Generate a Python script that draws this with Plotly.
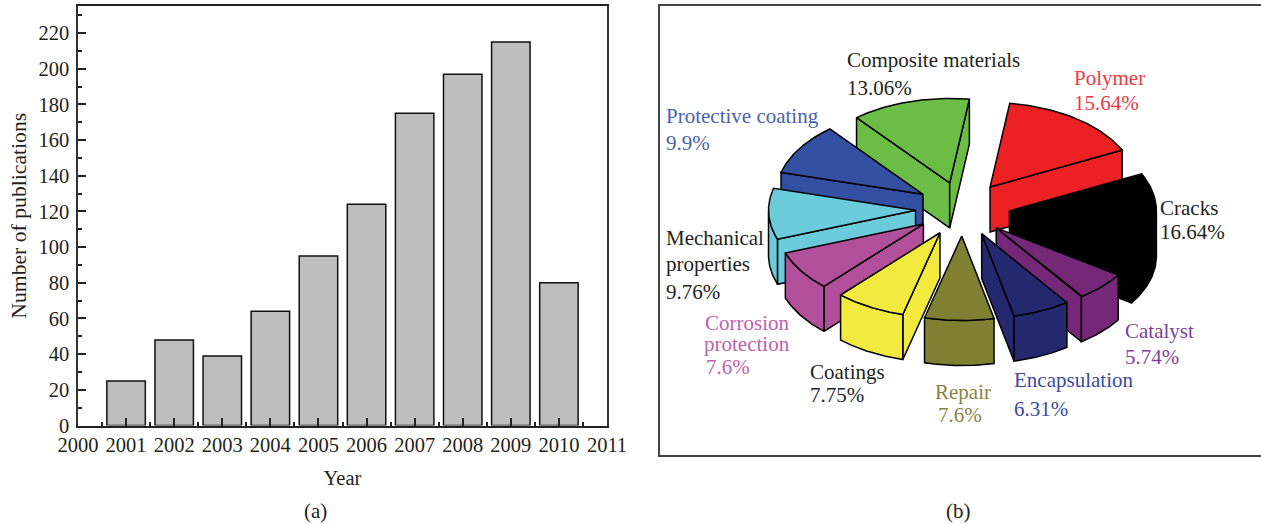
import math
import plotly.graph_objects as go

years = [2001, 2002, 2003, 2004, 2005, 2006, 2007, 2008, 2009, 2010]
publications = [25, 48, 39, 64, 95, 124, 175, 197, 215, 80]
year_ticks = list(range(2000, 2012))
count_ticks = list(range(0, 221, 20))

fields = ["Polymer", "Cracks", "Catalyst", "Encapsulation", "Repair", "Coatings",
          "Corrosion protection", "Mechanical properties", "Protective coating", "Composite materials"]
shares = [15.64, 16.64, 5.74, 6.31, 7.6, 7.75, 7.6, 9.76, 9.9, 13.06]
share_labels = ["15.64%", "16.64%", "5.74%", "6.31%", "7.6%", "7.75%", "7.6%", "9.76%", "9.9%", "13.06%"]

slice_colors = ["#ED2024", "#000000", "#742877", "#24286E", "#7F8032", "#F3EA3F",
                "#B14F9B", "#6CCBDA", "#324FA2", "#6BBD45"]
label_colors = ["#EE3A3F", "#231F20", "#7F3F98", "#3B4A9D", "#858540", "#231F20",
                "#C060AE", "#231F20", "#4A62B0", "#231F20"]
# Lines of each label: (text, left, middle y) per field, in the right panel's coordinates
label_lines = [
    [("Polymer", 1074, 78), ("15.64%", 1074, 103)],
    [("Cracks", 1160, 208), ("16.64%", 1160, 232)],
    [("Catalyst", 1125, 331), ("5.74%", 1125, 357)],
    [("Encapsulation", 1014, 380), ("6.31%", 1014, 409)],
    [("Repair", 935, 392), ("7.6%", 938, 415)],
    [("Coatings", 810, 372), ("7.75%", 810, 395)],
    [("Corrosion", 705, 323), ("protection", 704, 344), ("7.6%", 706, 367)],
    [("Mechanical", 666, 238), ("properties", 666, 264), ("9.76%", 666, 292)],
    [("Protective coating", 666, 116), ("9.9%", 666, 143)],
    [("Composite materials", 847, 60), ("13.06%", 847, 88)],
]
paint_order = [9, 0, 8, 1, 7, 2, 6, 3, 5, 4]

FONT = "Liberation Serif"
INK = "#231F20"
W, H = 1261, 524
CX, CY, RX, RY = 962.5, 209.0, 147.0, 84.5
DEPTH, PULL, START = 45.0, 0.32, 82.3

fig = go.Figure()
fig.add_trace(go.Bar(x=years, y=publications, width=0.8,
                     marker=dict(color="#BEBEBE", line=dict(color="#111111", width=1.5)),
                     xaxis="x", yaxis="y", showlegend=False))

# Ten pulled-out 3-D wedges, geometry derived from the share values
def point(theta, radius, ox, oy, drop=0.0):
    t = math.radians(theta)
    return ox + RX * radius * math.cos(t), oy - RY * radius * math.sin(t) + drop

def face(points, color):
    xs = [p[0] for p in points] + [points[0][0]]
    ys = [p[1] for p in points] + [points[0][1]]
    fig.add_trace(go.Scatter(x=xs, y=ys, mode="lines", fill="toself", fillcolor=color,
                             line=dict(color="#000000", width=1.5), hoverinfo="skip",
                             xaxis="x2", yaxis="y2", showlegend=False))

bounds = []
angle = START
for s in shares:
    bounds.append((angle, angle - s * 3.6))
    angle -= s * 3.6

for i in paint_order:
    hi, lo = bounds[i]
    mid = (hi + lo) / 2
    ox, oy = point(mid, PULL, CX, CY)
    color = slice_colors[i]
    # radial walls, only the ones that face the viewer
    for edge, normal in ((hi, hi + 90), (lo, lo - 90)):
        if math.sin(math.radians(normal)) < 0:
            a = (ox, oy)
            b = point(edge, 1, ox, oy)
            face([a, b, (b[0], b[1] + DEPTH), (a[0], a[1] + DEPTH)], color)
    # outer wall, only its front part
    steps = [lo + (hi - lo) * k / 60 for k in range(61)]
    front = [t for t in steps if math.sin(math.radians(t)) <= 0]
    if len(front) > 1:
        top = [point(t, 1, ox, oy) for t in front]
        low = [point(t, 1, ox, oy, DEPTH) for t in reversed(front)]
        face(top + low, color)
    # top face
    face([(ox, oy)] + [point(t, 1, ox, oy) for t in steps], color)

annotations = []
for i, lines in enumerate(label_lines):
    for text, left, mid_y in lines:
        annotations.append(dict(x=left, y=mid_y, xref="x2", yref="y2", text=text, showarrow=False,
                                xanchor="left", yanchor="middle", xshift=-2,
                                font=dict(family=FONT, size=21, color=label_colors[i])))
for text, px, py in (("(a)", 315, 511), ("(b)", 958, 511)):
    annotations.append(dict(x=px / W, y=1 - py / H, xref="paper", yref="paper", text=text,
                            xanchor="center", yanchor="middle",
                            showarrow=False, font=dict(family=FONT, size=21, color=INK)))

fig.update_layout(
    width=W, height=H, autosize=False,
    margin=dict(l=0, r=0, t=0, b=0, autoexpand=False),
    paper_bgcolor="white", plot_bgcolor="white",
    font=dict(family=FONT, size=21, color=INK),
    bargap=0.2,
    annotations=annotations,
    xaxis=dict(domain=[78 / W, 607 / W], range=[2000, 2011], tickmode="array", tickvals=year_ticks,
               automargin=False,
               ticks="inside", ticklen=8, tickwidth=1.5, tickcolor="#222", showgrid=False, zeroline=False,
               showline=True, linecolor="#222", linewidth=1.5, mirror=True, anchor="y",
               tickfont=dict(size=20.5, family=FONT, color=INK),
               minor=dict(dtick=1, tick0=2000.5, ticks="inside", ticklen=4, tickwidth=1.5, tickcolor="#222"),
               title=dict(text="Year", font=dict(size=20.5, family=FONT, color=INK), standoff=16)),
    yaxis=dict(domain=[1 - 425.5 / H, 1 - 6 / H], range=[0, 235.2], tickmode="array", tickvals=count_ticks,
               automargin=False, ticklabelstandoff=3,
               ticks="inside", ticklen=8, tickwidth=1.5, tickcolor="#222", showgrid=False, zeroline=False,
               showline=True, linecolor="#333", linewidth=1.5, mirror=True, anchor="x",
               tickfont=dict(size=20.5, family=FONT, color=INK),
               minor=dict(dtick=20, tick0=10, ticks="inside", ticklen=4, tickwidth=1.5, tickcolor="#222"),
               title=dict(text="Number of publications", font=dict(size=21.7, family=FONT, color=INK), standoff=6)),
    xaxis2=dict(domain=[660 / W, 1], range=[660, W], showticklabels=False, ticks="", showgrid=False,
                automargin=False,
                zeroline=False, showline=True, linecolor="#444", linewidth=1.5, mirror=True, anchor="y2"),
    yaxis2=dict(domain=[1 - 455 / H, 1 - 6 / H], range=[455, 6], showticklabels=False, ticks="", showgrid=False,
                automargin=False,
                zeroline=False, showline=True, linecolor="#444", linewidth=1.5, mirror=True, anchor="x2"),
)
fig.write_html("out.html", post_script="document.body.style.margin='0';",
               config={"displayModeBar": False})
